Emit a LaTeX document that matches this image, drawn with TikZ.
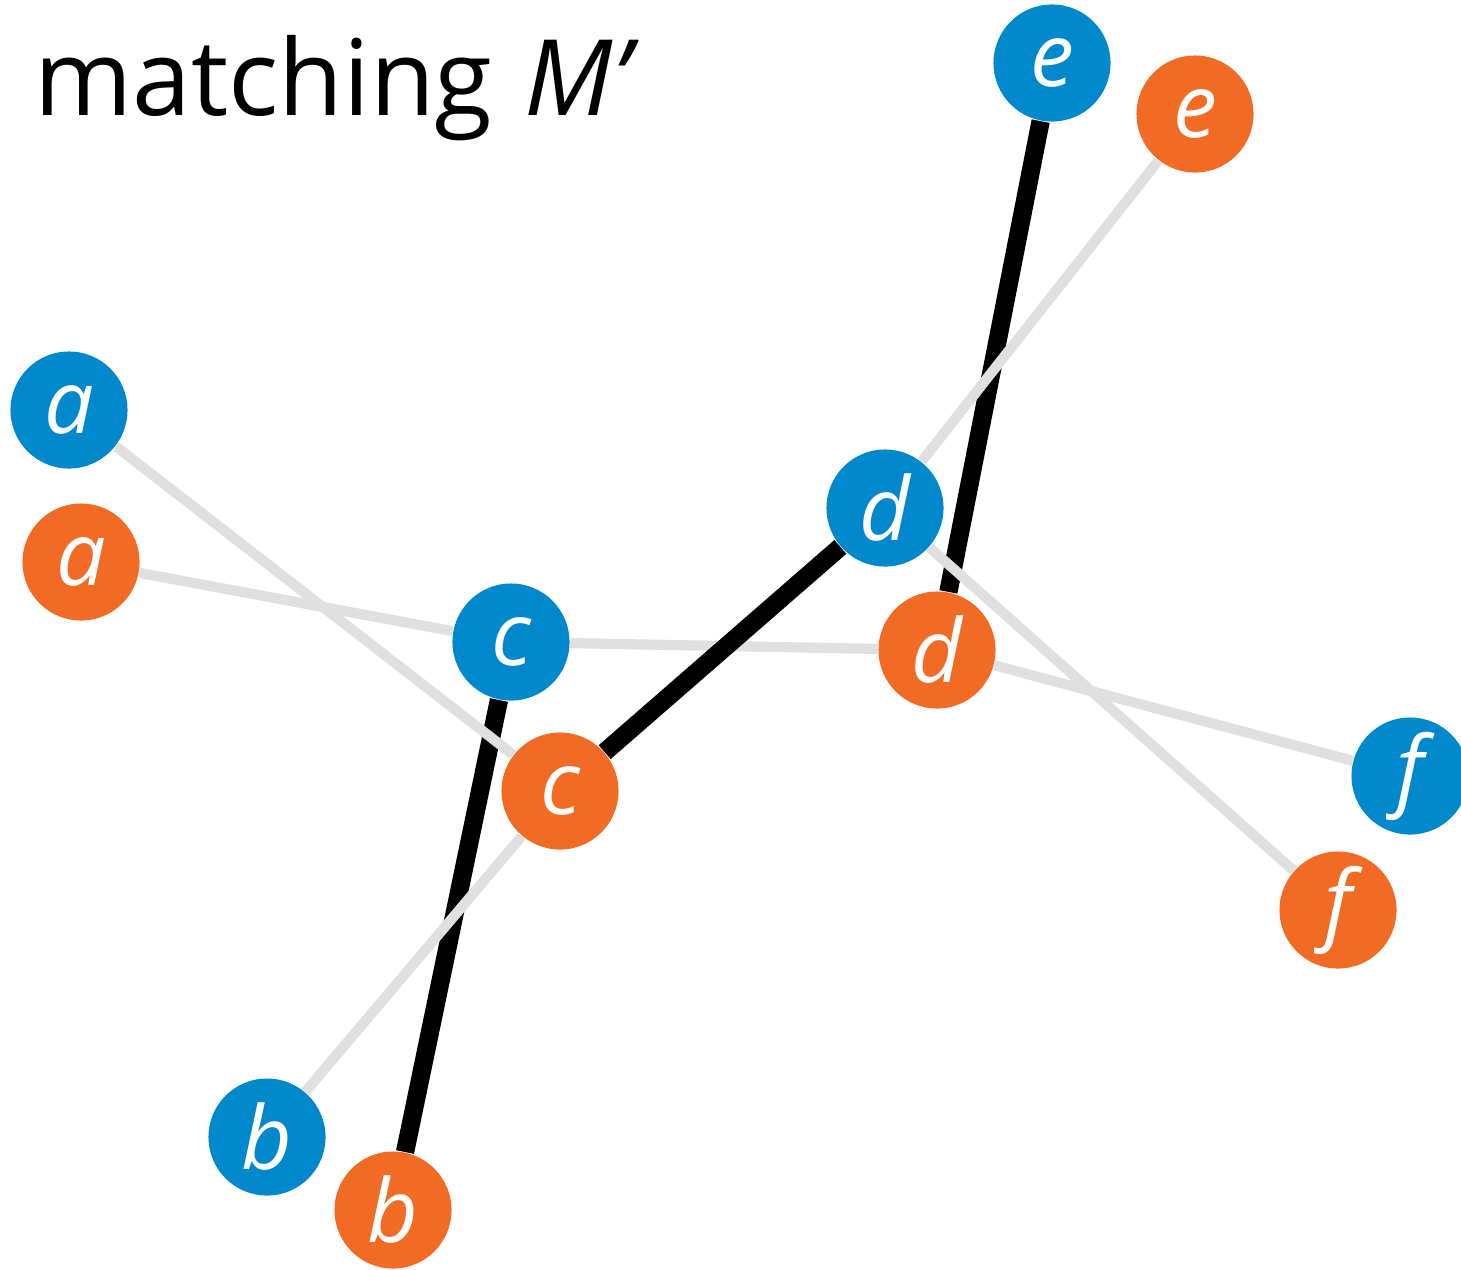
\documentclass[tikz,border=0pt]{standalone}
\usepackage{fontspec}
\setmainfont{Open Sans}
\definecolor{leftside}{RGB}{0,136,204}
\definecolor{rightside}{RGB}{242,107,37}
\definecolor{unmatched}{RGB}{224,224,224}
\tikzset{vertex/.style={circle,minimum size=1.17cm,inner sep=0pt,text=white,
  font=\fontsize{25}{30}\selectfont\itshape},
 matched/.style={line width=5.2pt,black},
 free/.style={line width=2.9pt,unmatched}}

\begin{document}
\begin{tikzpicture}[x=0.01cm,y=-0.01cm]
\useasboundingbox (0,0) rectangle (1461,1269);
\node[anchor=base west,font=\fontsize{30}{36}\selectfont] (title) at (22,115) {matching\hspace{0.3em}\textit{M’}};
% left vertices
\node[vertex,fill=leftside] (a1) at (69,410) {a};
\node[vertex,fill=leftside] (b1) at (267,1137) {b};
\node[vertex,fill=leftside] (c1) at (511,642) {c};
\node[vertex,fill=leftside] (d1) at (885,508) {d};
\node[vertex,fill=leftside] (e1) at (1052,63) {e};
\node[vertex,fill=leftside] (f1) at (1410,776) {f};
% right vertices
\node[vertex,fill=rightside] (a2) at (81,562) {a};
\node[vertex,fill=rightside] (b2) at (393,1210) {b};
\node[vertex,fill=rightside] (c2) at (560,791) {c};
\node[vertex,fill=rightside] (d2) at (937,650) {d};
\node[vertex,fill=rightside] (e2) at (1195,114) {e};
\node[vertex,fill=rightside] (f2) at (1338,910) {f};
% edges (order kept for the crossings)
\draw[free] (c1)--(d2);
\draw[matched] (c1)--(b2);
\draw[matched] (c2)--(d1);
\draw[matched] (d2)--(e1);
\draw[free] (a1)--(c2);
\draw[free] (a2)--(c1);
\draw[free] (b1)--(c2);
\draw[free] (d1)--(e2);
\draw[free] (d1)--(f2);
\draw[free] (d2)--(f1);
\end{tikzpicture}
\end{document}
